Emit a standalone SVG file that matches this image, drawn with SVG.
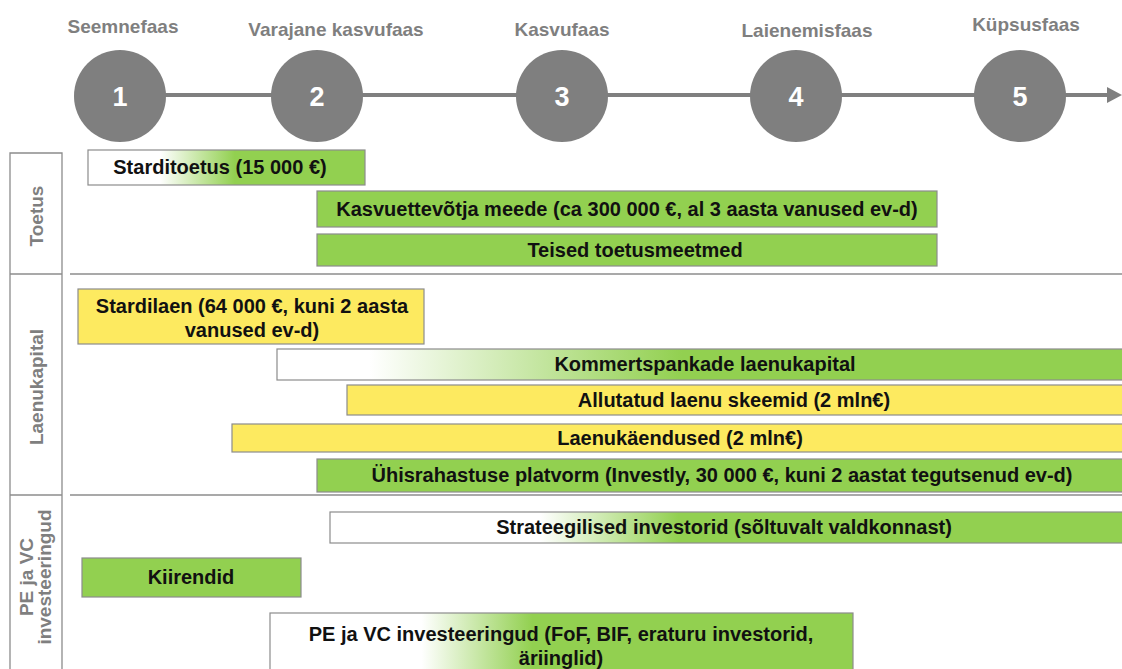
<svg xmlns="http://www.w3.org/2000/svg" width="1122" height="669" viewBox="0 0 1122 669">
  <defs>
    <style>
      .phase { font-family: "Liberation Sans", Arial, sans-serif; font-weight: bold; font-size: 19px; fill: #7f7f7f; text-anchor: middle; }
      .num { font-family: "Liberation Sans", Arial, sans-serif; font-weight: bold; font-size: 27px; fill: #ffffff; text-anchor: middle; }
      .circ { fill: #7f7f7f; }
      .sec { font-family: "Liberation Sans", Arial, sans-serif; font-weight: bold; font-size: 19px; fill: #7f7f7f; text-anchor: middle; }
      .bar { stroke: #8c8c8c; stroke-width: 1.2; }
      .green { fill: #92d050; }
      .yellow { fill: #fdea60; }
      .lbl { font-family: "Liberation Sans", Arial, sans-serif; font-weight: bold; font-size: 20px; fill: #111111; text-anchor: middle; }
      .rule { stroke: #8c8c8c; stroke-width: 1.3; fill: none; }
      .timeline { stroke: #7f7f7f; stroke-width: 4; fill: none; }
    </style>
    <linearGradient id="gStart" gradientUnits="userSpaceOnUse" x1="88" y1="0" x2="365" y2="0">
      <stop offset="0.26" stop-color="#ffffff"/>
      <stop offset="0.53" stop-color="#92d050"/>
    </linearGradient>
    <linearGradient id="gBank" gradientUnits="userSpaceOnUse" x1="277" y1="0" x2="1122" y2="0">
      <stop offset="0.11" stop-color="#ffffff"/>
      <stop offset="0.48" stop-color="#92d050"/>
    </linearGradient>
    <linearGradient id="gStrat" gradientUnits="userSpaceOnUse" x1="330" y1="0" x2="1122" y2="0">
      <stop offset="0.265" stop-color="#ffffff"/>
      <stop offset="0.44" stop-color="#92d050"/>
    </linearGradient>
    <linearGradient id="gPE" gradientUnits="userSpaceOnUse" x1="270" y1="0" x2="853" y2="0">
      <stop offset="0.26" stop-color="#ffffff"/>
      <stop offset="0.45" stop-color="#92d050"/>
    </linearGradient>
  </defs>

  <rect width="1122" height="669" fill="#ffffff"/>

  <!-- timeline line and arrow -->
  <g id="connectors">
    <line class="timeline" x1="120" y1="95" x2="1110" y2="95"/>
    <polygon points="1107,87 1122,95 1107,103" fill="#7f7f7f"/>
  </g>

  <!-- phases -->
  <g id="phase1">
    <text class="phase" x="123" y="33">Seemnefaas</text>
    <circle class="circ" cx="120" cy="96" r="46"/>
    <text class="num" x="120" y="106">1</text>
  </g>
  <g id="phase2">
    <text class="phase" x="336" y="36">Varajane kasvufaas</text>
    <circle class="circ" cx="317" cy="96" r="46"/>
    <text class="num" x="317" y="106">2</text>
  </g>
  <g id="phase3">
    <text class="phase" x="562" y="36">Kasvufaas</text>
    <circle class="circ" cx="562" cy="96" r="46"/>
    <text class="num" x="562" y="106">3</text>
  </g>
  <g id="phase4">
    <text class="phase" x="807" y="37">Laienemisfaas</text>
    <circle class="circ" cx="796" cy="96" r="46"/>
    <text class="num" x="796" y="106">4</text>
  </g>
  <g id="phase5">
    <text class="phase" x="1026" y="31">Küpsusfaas</text>
    <circle class="circ" cx="1020" cy="96" r="46"/>
    <text class="num" x="1020" y="106">5</text>
  </g>

  <!-- section frame on the left and horizontal rules -->
  <g id="frame">
    <path class="rule" d="M10,669 V153 H62 V669"/>
    <line class="rule" x1="10" y1="274" x2="62" y2="274"/>
    <line class="rule" x1="10" y1="495" x2="62" y2="495"/>
    <line class="rule" x1="70" y1="274" x2="1122" y2="274"/>
    <line class="rule" x1="70" y1="495" x2="1122" y2="495"/>
  </g>

  <g id="sec-toetus">
    <text class="sec" transform="translate(43,216) rotate(-90)">Toetus</text>
  </g>
  <g id="sec-laenukapital">
    <text class="sec" transform="translate(43,387) rotate(-90)">Laenukapital</text>
  </g>
  <g id="sec-pevc">
    <text class="sec" transform="translate(33,577) rotate(-90)">PE ja VC</text>
    <text class="sec" transform="translate(51,577) rotate(-90)">investeeringud</text>
  </g>

  <!-- Toetus -->
  <g id="bar-starditoetus">
    <rect class="bar" x="88" y="150" width="277" height="35" fill="url(#gStart)"/>
    <text class="lbl" x="220" y="174">Starditoetus (15 000 €)</text>
  </g>
  <g id="bar-kasvuettevotja">
    <rect class="bar green" x="317" y="191" width="620" height="36"/>
    <text class="lbl" x="627" y="216">Kasvuettevõtja meede (ca 300 000 €, al 3 aasta vanused ev-d)</text>
  </g>
  <g id="bar-teised">
    <rect class="bar green" x="317" y="234" width="620" height="32"/>
    <text class="lbl" x="635" y="257">Teised toetusmeetmed</text>
  </g>

  <!-- Laenukapital -->
  <g id="bar-stardilaen">
    <rect class="bar yellow" x="78" y="289" width="346" height="55"/>
    <text class="lbl" x="252" y="313">Stardilaen (64 000 €, kuni 2 aasta</text>
    <text class="lbl" x="252" y="337">vanused ev-d)</text>
  </g>
  <g id="bar-kommertspangad">
    <rect class="bar" x="277" y="349" width="850" height="31" fill="url(#gBank)"/>
    <text class="lbl" x="705" y="371">Kommertspankade laenukapital</text>
  </g>
  <g id="bar-allutatud">
    <rect class="bar yellow" x="347" y="385" width="780" height="30"/>
    <text class="lbl" x="734" y="407">Allutatud laenu skeemid (2 mln€)</text>
  </g>
  <g id="bar-laenukaendused">
    <rect class="bar yellow" x="232" y="424" width="895" height="28"/>
    <text class="lbl" x="680" y="445">Laenukäendused (2 mln€)</text>
  </g>
  <g id="bar-uhisrahastus">
    <rect class="bar green" x="317" y="459" width="810" height="33"/>
    <text class="lbl" x="722" y="482">Ühisrahastuse platvorm (Investly, 30 000 €, kuni 2 aastat tegutsenud ev-d)</text>
  </g>

  <!-- PE ja VC investeeringud -->
  <g id="bar-strateegilised">
    <rect class="bar" x="330" y="512" width="797" height="31" fill="url(#gStrat)"/>
    <text class="lbl" x="724" y="534">Strateegilised investorid (sõltuvalt valdkonnast)</text>
  </g>
  <g id="bar-kiirendid">
    <rect class="bar green" x="82" y="558" width="219" height="39"/>
    <text class="lbl" x="191" y="584">Kiirendid</text>
  </g>
  <g id="bar-pevc">
    <rect class="bar" x="270" y="613" width="583" height="62" fill="url(#gPE)"/>
    <text class="lbl" x="561" y="641">PE ja VC investeeringud (FoF, BIF, eraturu investorid,</text>
    <text class="lbl" x="561" y="665">äriinglid)</text>
  </g>
</svg>
